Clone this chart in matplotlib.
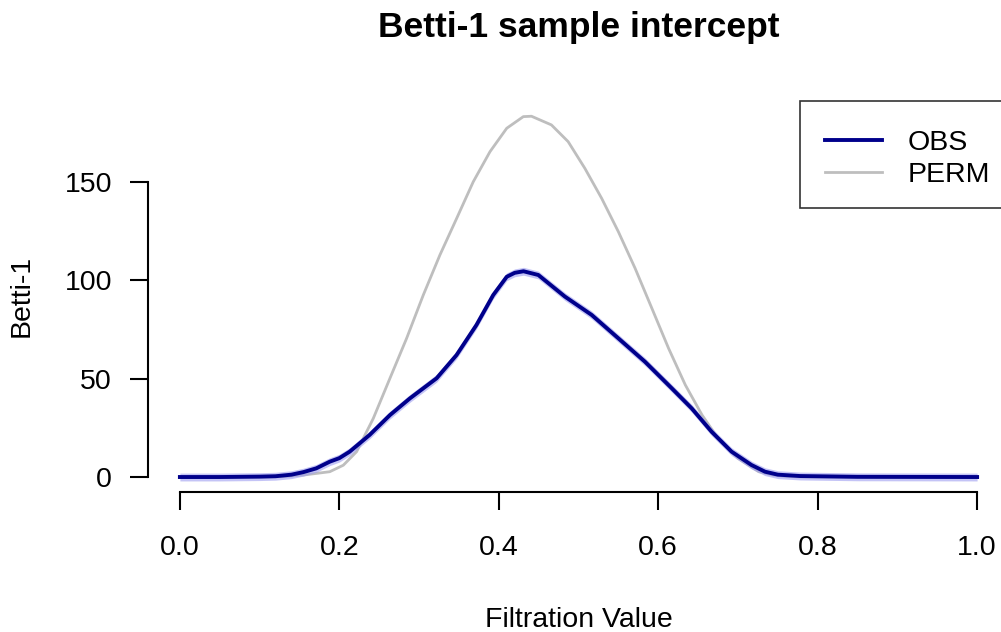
import matplotlib
matplotlib.use("Agg")
import matplotlib.pyplot as plt
from matplotlib.patches import Rectangle
import numpy as np

plt.rcParams['font.family'] = ['Liberation Sans', 'DejaVu Sans']

# values
obs_x = [0.0, 0.05, 0.10, 0.12, 0.14, 0.155, 0.171, 0.188, 0.200, 0.213, 0.238, 0.2635,
         0.2886, 0.322, 0.347, 0.372, 0.393, 0.410, 0.420, 0.431, 0.4496, 0.483,
         0.5165, 0.550, 0.5834, 0.617, 0.642, 0.667, 0.692, 0.717, 0.734, 0.750,
         0.778, 0.85, 1.0]
obs_y = [0, 0, 0.2, 0.4, 1.2, 2.5, 4.4, 7.8, 9.6, 12.9, 21.4, 31.5,
         40, 50.2, 62, 77.3, 92.5, 101.8, 103.8, 104.6, 102.7, 91.7,
         82.4, 70.5, 58.6, 45.1, 34.9, 23.0, 12.9, 6.1, 2.7, 1.2,
         0.5, 0.1, 0]

perm_x = [0.0, 0.10, 0.13, 0.155, 0.188, 0.205, 0.2217, 0.2426, 0.2635, 0.2844,
          0.3053, 0.3262, 0.3472, 0.368, 0.389, 0.410, 0.4308, 0.441, 0.466, 0.487,
          0.508, 0.529, 0.550, 0.571, 0.592, 0.613, 0.634, 0.655, 0.675, 0.700,
          0.726, 0.744, 0.76, 0.78, 1.0]
perm_y = [0, 0, 0.2, 1, 2.7, 6, 12.9, 29.8, 50.2, 70.5,
          92.5, 112.9, 131.5, 150.1, 165.4, 177.3, 183.2, 183.4, 179, 170.5,
          156.9, 141.7, 124.7, 106.1, 85.8, 65.4, 46.8, 31.5, 19.7, 9.5,
          2.7, 1, 0.3, 0, 0]

band = 2.0  # half width of the pale band round OBS

x_ticks = [0.0, 0.2, 0.4, 0.6, 0.8, 1.0]
y_ticks = [0, 50, 100, 150]

W, H = 1001, 632
fig = plt.figure(figsize=(W / 100, H / 100), dpi=100)
ax = fig.add_axes([148 / W, 1 - 491.5 / H, 861 / W, 391 / H])

perm_line, = ax.plot(perm_x, perm_y, color='#BEBEBE', lw=2.0, label='PERM', zorder=2,
                     solid_joinstyle='round')
ax.fill_between(obs_x, np.array(obs_y) - band, np.array(obs_y) + band,
                color='#9E9EF0', alpha=0.6, lw=0, zorder=3)
obs_line, = ax.plot(obs_x, obs_y, color='#00008B', lw=2.8, label='OBS', zorder=4,
                    solid_joinstyle='round')

ax.set_xlim(-0.04, 1.04)
ax.set_ylim(-7.36, 191.4)

for s in ['top', 'right']:
    ax.spines[s].set_visible(False)
ax.spines['left'].set_bounds(0, 150)
ax.spines['bottom'].set_bounds(0, 1)
for s in ['left', 'bottom']:
    ax.spines[s].set_linewidth(1.5)

ax.set_xticks(x_ticks)
ax.set_xticklabels([f"{v:.1f}" for v in x_ticks])
ax.set_yticks(y_ticks)
ax.tick_params(axis='both', length=13, width=1.5, labelsize=20.5, color='black')
ax.tick_params(axis='x', pad=18.5)
ax.tick_params(axis='y', pad=13)

ax.set_xlabel("Filtration Value", fontsize=20.5, va='baseline')
ax.xaxis.set_label_coords(0.5, -0.347)
ax.set_ylabel("Betti-1", fontsize=20.5, va='center')
ax.yaxis.set_label_coords(-0.1463, 0.5)

ax.text(0.5, 1.1624, "Betti-1 sample intercept", transform=ax.transAxes,
        ha='center', va='baseline', fontsize=25.5, fontweight='bold')

# legend box drawn separately (R-style padding), entries on top of it
ax.add_patch(Rectangle((800 / W, 1 - 208 / H), 220 / W, 107 / H,
                       transform=fig.transFigure, clip_on=False, facecolor='white',
                       edgecolor='#333333', lw=1.2, zorder=5))
leg = ax.legend([obs_line, perm_line], ['OBS', 'PERM'], loc='upper left',
                bbox_to_anchor=(825 / W, 1 - 130 / H), bbox_transform=fig.transFigure,
                borderaxespad=0, borderpad=0, fontsize=20.5, frameon=False,
                handlelength=2.0, handletextpad=0.9, labelspacing=0.2)
leg.set_zorder(6)

fig.savefig("out.png", dpi=100)
